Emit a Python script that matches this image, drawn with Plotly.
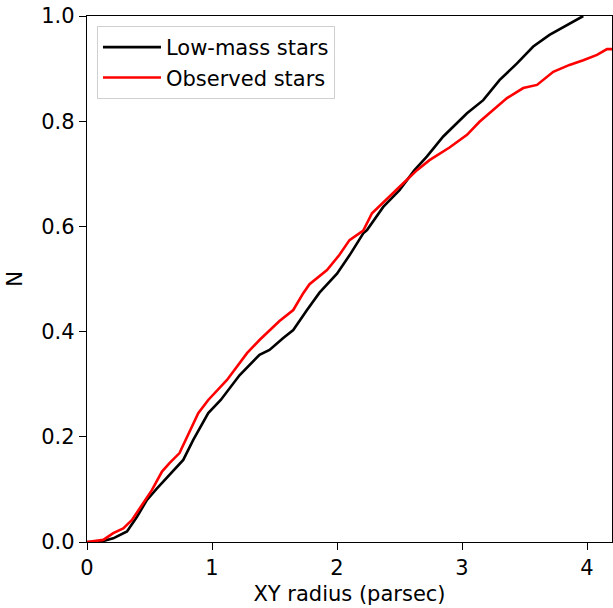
import plotly.graph_objects as go

# Low-mass stars (black) cumulative curve
low_x = [0, 0.10, 0.21, 0.32, 0.40, 0.48, 0.56, 0.66, 0.77, 0.85, 0.97, 1.07, 1.22, 1.38,
         1.46, 1.57, 1.65, 1.76, 1.86, 2.00, 2.10, 2.21, 2.24, 2.37, 2.50, 2.62, 2.72, 2.85,
         2.97, 3.04, 3.17, 3.30, 3.44, 3.57, 3.70, 3.84, 3.97]
low_y = [0, 0, 0.007, 0.020, 0.048, 0.080, 0.102, 0.127, 0.156, 0.194, 0.245, 0.270, 0.317, 0.356,
         0.365, 0.388, 0.403, 0.441, 0.474, 0.510, 0.545, 0.587, 0.593, 0.637, 0.669, 0.707, 0.733, 0.771,
         0.800, 0.815, 0.840, 0.878, 0.910, 0.942, 0.964, 0.983, 1.0]

# Observed stars (red) cumulative curve
obs_x = [0, 0.13, 0.21, 0.29, 0.36, 0.42, 0.52, 0.60, 0.66, 0.74, 0.80, 0.89, 0.97, 1.12, 1.28,
         1.38, 1.54, 1.65, 1.73, 1.78, 1.92, 2.02, 2.10, 2.18, 2.21, 2.28, 2.42, 2.53, 2.64, 2.74,
         2.90, 3.04, 3.14, 3.22, 3.36, 3.49, 3.60, 3.73, 3.86, 3.97, 4.08, 4.16, 4.2]
obs_y = [0, 0.004, 0.017, 0.026, 0.042, 0.064, 0.099, 0.134, 0.150, 0.169, 0.200, 0.245, 0.270, 0.308, 0.359,
         0.384, 0.420, 0.441, 0.473, 0.490, 0.517, 0.546, 0.574, 0.588, 0.592, 0.625, 0.656, 0.682, 0.707, 0.726,
         0.750, 0.774, 0.799, 0.815, 0.844, 0.863, 0.869, 0.894, 0.907, 0.916, 0.926, 0.937, 0.937]

x_ticks = [0, 1, 2, 3, 4]
y_ticks = [0.0, 0.2, 0.4, 0.6, 0.8, 1.0]

FONT = "DejaVu Sans"
FS = 21

fig = go.Figure()
fig.add_trace(go.Scatter(x=low_x, y=low_y, mode="lines", name="Low-mass stars",
                         line=dict(color="#000000", width=2.6)))
fig.add_trace(go.Scatter(x=obs_x, y=obs_y, mode="lines", name="Observed stars",
                         line=dict(color="#ff0000", width=2.6)))

axis_common = dict(showgrid=False, zeroline=False, showline=True, linecolor="black",
                   linewidth=1.3, mirror=True, ticks="outside", ticklen=7, tickwidth=1.3,
                   tickcolor="black", tickfont=dict(family=FONT, size=FS, color="black"))

fig.update_xaxes(range=[0, 4.2], tickvals=x_ticks,
                 title=dict(text="XY radius (parsec)", font=dict(family=FONT, size=FS, color="black"),
                            standoff=6),
                 **axis_common)
fig.update_yaxes(range=[0, 1.0], tickvals=y_ticks, tickformat=".1f",
                 title=dict(text="N", font=dict(family=FONT, size=FS, color="black"), standoff=12),
                 **axis_common)

fig.update_layout(
    width=613, height=608,
    margin=dict(l=87, r=1, t=16, b=66),
    paper_bgcolor="white", plot_bgcolor="white",
    font=dict(family=FONT, size=FS, color="black"),
    showlegend=True,
    legend=dict(x=0.019, y=0.981, xanchor="left", yanchor="top",
                bgcolor="rgba(255,255,255,0.9)", bordercolor="#d0d0d0", borderwidth=1,
                font=dict(family=FONT, size=FS, color="black"),
                tracegroupgap=0, itemwidth=58),
)

fig.write_html("out.html")
